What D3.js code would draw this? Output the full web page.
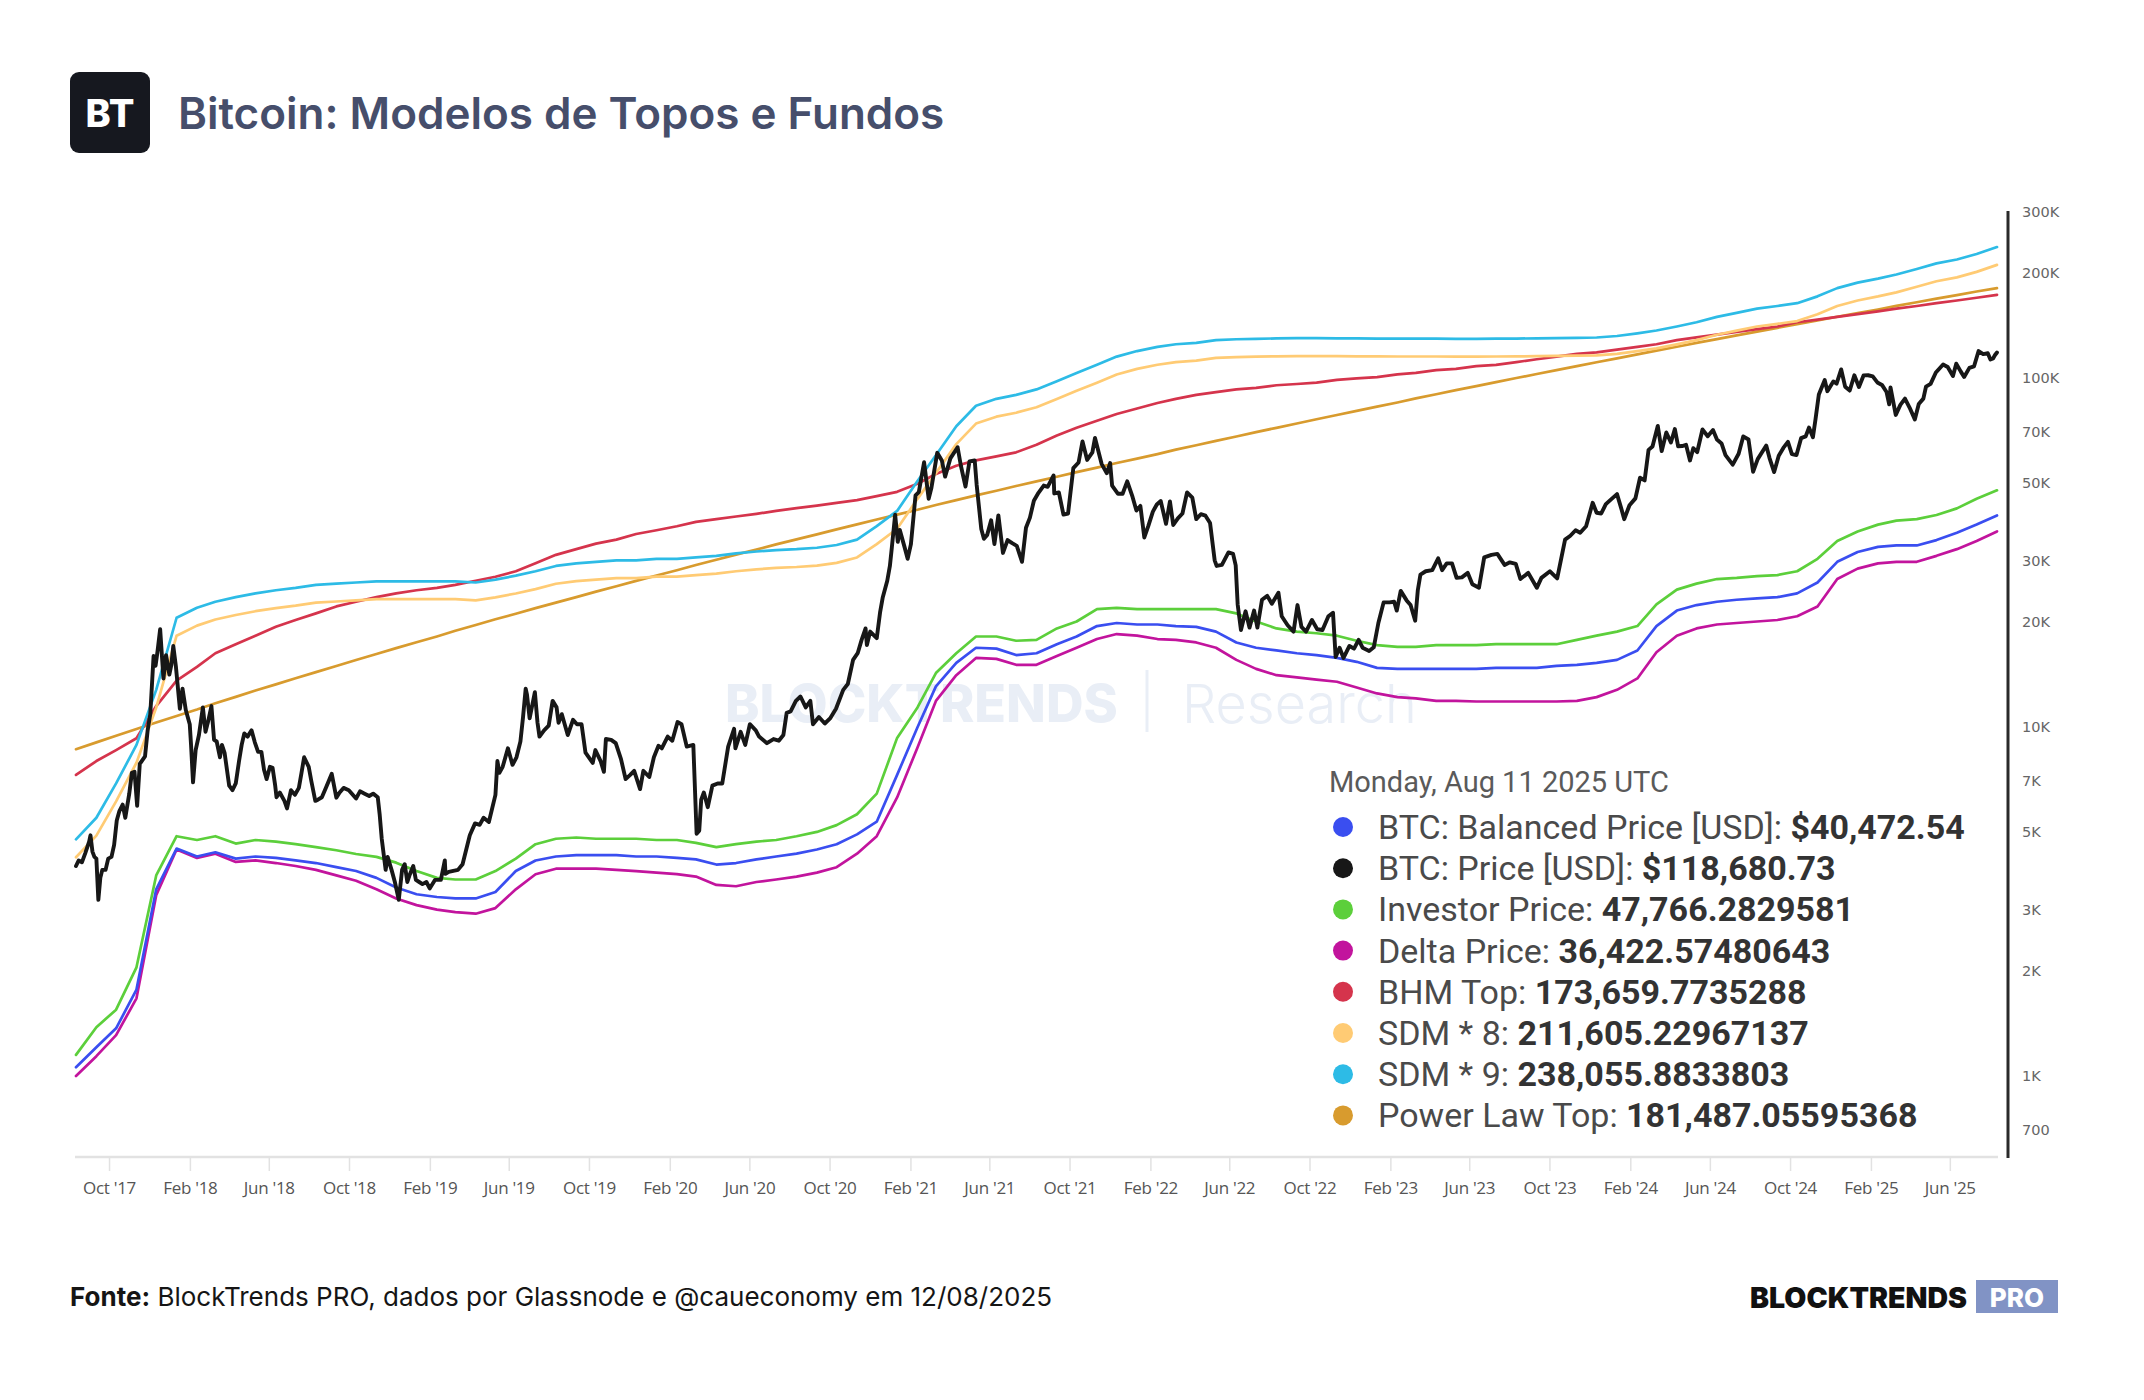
<!DOCTYPE html>
<html>
<head>
<meta charset="utf-8">
<script src="https://cdn.jsdelivr.net/npm/d3@7"></script>
<style>
  html, body { margin: 0; padding: 0; background: #fff; }
  svg { display: block; }
</style>
</head>
<body>
<svg id="chart" width="2144" height="1400"></svg>
<script>
// model series are monthly, starting 2017-08-11, values in thousands of USD
var modelStart = "2017-08-11";

var sdm9K = [4.77,5.5,6.9,8.9,12.8,20.6,22.0,22.9,23.6,24.2,
  24.7,25.1,25.6,25.8,26.0,26.2,26.2,26.2,26.2,26.2,
  26.0,26.5,27.2,28.0,29.0,29.5,29.8,30.1,30.1,30.4,
  30.4,30.7,31.0,31.5,31.9,32.2,32.4,32.7,33.3,34.5,
  37.7,41.7,50.8,60.2,72.9,83.5,87.4,89.7,93.0,98.2,
  103.7,109.4,115.5,119.8,123.1,125.3,126.5,128.8,129.5,129.9,
  130.2,130.4,130.4,130.3,130.2,130.1,130.0,130.0,130.0,129.9,
  129.9,130.0,130.1,130.3,130.5,130.7,131.0,132.3,134.7,137.2,
  140.9,144.9,150.1,154.2,158.5,161.3,164.3,171.9,181.5,188.2,
  193.3,198.6,206.0,213.7,219.2,227.3,238.06];

var sdm8K = [4.24,4.89,6.13,7.91,11.38,18.3,19.56,20.36,20.98,21.51,
  21.96,22.31,22.76,22.93,23.11,23.29,23.29,23.29,23.29,23.29,
  23.11,23.56,24.18,24.89,25.78,26.22,26.49,26.76,26.76,27.02,
  27.02,27.29,27.56,28.0,28.36,28.62,28.8,29.07,29.6,30.67,
  33.51,37.07,45.16,53.51,64.8,74.22,77.69,79.73,82.67,87.29,
  92.18,97.24,102.67,106.49,109.42,111.38,112.44,114.49,115.11,115.47,
  115.73,115.91,115.91,115.82,115.73,115.64,115.56,115.56,115.56,115.47,
  115.47,115.56,115.64,115.82,116.0,116.18,116.44,117.6,119.73,121.96,
  125.24,128.8,133.42,137.07,140.89,143.38,146.04,152.8,161.33,167.29,
  171.82,176.53,183.11,189.96,194.84,202.04,211.61];

var bhmK = [7.3,8.0,8.6,9.3,11.5,13.6,14.9,16.3,17.3,18.3,
  19.4,20.3,21.2,22.2,22.9,23.6,24.2,24.7,25.1,25.6,
  26.3,27.0,28.0,29.5,31.2,32.4,33.6,34.5,35.8,36.7,
  37.7,38.8,39.5,40.2,40.9,41.7,42.5,43.2,44.0,44.8,
  46.0,47.3,49.9,53.2,56.2,58.2,59.8,61.4,64.5,68.6,
  72.2,75.6,79.1,82.0,85.0,87.4,89.7,91.4,93.0,93.9,
  95.6,96.4,97.3,99.1,100.0,100.9,102.7,103.7,105.6,106.5,
  108.5,109.4,111.4,113.5,115.5,117.6,118.7,120.9,123.1,125.3,
  128.8,131.1,133.5,135.9,138.4,140.9,144.9,147.5,150.1,152.8,
  155.6,158.5,161.3,164.3,167.3,170.3,173.66];

var powerLawK = [8.65,9.05,9.45,9.88,10.32,10.77,11.24,11.72,12.22,12.74,
  13.27,13.82,14.39,14.98,15.59,16.21,16.86,17.52,18.21,18.91,
  19.64,20.39,21.16,21.95,22.77,23.61,24.48,25.37,26.28,27.22,
  28.19,29.18,30.2,31.25,32.32,33.43,34.56,35.73,36.92,38.15,
  39.41,40.7,42.02,43.38,44.77,46.19,47.65,49.15,50.68,52.26,
  53.86,55.51,57.2,58.92,60.69,62.5,64.35,66.24,68.18,70.16,
  72.18,74.25,76.37,78.53,80.74,83.0,85.31,87.67,90.08,92.55,
  95.06,97.63,100.25,102.93,105.66,108.45,111.3,114.2,117.16,120.19,
  123.27,126.42,129.63,132.9,136.23,139.64,143.1,146.64,150.24,153.92,
  157.66,161.47,165.36,169.32,173.35,177.46,181.49];

var investorK = [1.15,1.38,1.55,2.05,3.76,4.87,4.75,4.87,4.64,4.75,
  4.70,4.62,4.53,4.44,4.33,4.25,4.09,3.87,3.70,3.66,
  3.66,3.87,4.20,4.62,4.79,4.83,4.79,4.79,4.79,4.75,
  4.75,4.66,4.53,4.62,4.70,4.75,4.87,5.01,5.24,5.63,
  6.45,9.32,11.4,14.3,16.3,18.2,18.2,17.7,17.8,19.2,
  20.1,21.8,22.0,21.8,21.8,21.8,21.8,21.8,21.2,20.1,
  19.2,18.8,18.6,18.3,17.7,17.2,17.0,17.0,17.2,17.2,
  17.2,17.3,17.3,17.3,17.3,17.8,18.3,18.8,19.5,22.5,
  24.8,25.8,26.6,26.8,27.1,27.3,28.0,30.4,34.2,36.4,
  38.1,39.1,39.5,40.6,42.4,45.2,47.77];

var balancedK = [1.06,1.21,1.37,1.77,3.43,4.49,4.26,4.38,4.20,4.26,
  4.22,4.15,4.08,3.97,3.87,3.70,3.47,3.32,3.26,3.23,
  3.23,3.37,3.87,4.15,4.26,4.30,4.30,4.30,4.26,4.26,
  4.22,4.18,4.04,4.08,4.18,4.26,4.34,4.46,4.62,4.93,
  5.36,7.30,10.0,13.1,15.3,16.9,16.8,16.1,16.3,17.3,
  18.2,19.5,19.9,19.7,19.7,19.5,19.4,18.8,17.5,16.9,
  16.6,16.3,16.1,15.8,15.4,14.8,14.7,14.7,14.7,14.7,
  14.7,14.8,14.8,14.8,15.0,15.1,15.3,15.6,16.6,19.5,
  21.6,22.4,22.9,23.2,23.4,23.6,24.2,26.0,29.8,31.8,
  32.9,33.2,33.2,34.4,36.1,38.1,40.47];

var deltaK = [1.0,1.14,1.31,1.67,3.3,4.46,4.22,4.34,4.11,4.15,
  4.08,4.0,3.9,3.76,3.63,3.43,3.23,3.09,3.0,2.95,
  2.92,3.03,3.43,3.79,3.93,3.93,3.93,3.9,3.87,3.83,
  3.79,3.73,3.53,3.5,3.6,3.66,3.73,3.83,3.97,4.34,
  4.87,6.29,8.75,11.9,14.1,15.8,15.7,15.1,15.1,16.0,
  16.9,17.9,18.5,18.3,17.9,17.8,17.5,16.9,15.6,14.7,
  14.1,13.9,13.7,13.5,13.0,12.5,12.2,12.1,11.9,11.9,
  11.85,11.85,11.85,11.85,11.85,11.9,12.2,12.8,13.8,16.4,
  18.3,19.2,19.7,19.9,20.1,20.3,20.8,22.2,26.6,28.5,
  29.5,29.8,29.8,31.0,32.4,34.2,36.42];

// BTC price [date, USD]
var btcPrice = [
  ["2017-08-11",4000],["2017-08-15",4150],["2017-08-20",4100],["2017-08-25",4350],["2017-08-31",4700],
  ["2017-09-02",4900],["2017-09-05",4400],["2017-09-08",4250],["2017-09-11",4200],["2017-09-14",3200],
  ["2017-09-17",3700],["2017-09-20",3900],["2017-09-25",3900],["2017-09-29",4200],["2017-10-04",4250],
  ["2017-10-08",4600],["2017-10-12",5400],["2017-10-16",5750],["2017-10-21",6000],["2017-10-25",5500],
  ["2017-10-31",6450],["2017-11-04",7400],["2017-11-08",7450],["2017-11-12",5950],["2017-11-16",7850],
  ["2017-11-19",8000],["2017-11-24",8250],["2017-11-28",9800],["2017-12-02",10900],["2017-12-07",16000],
  ["2017-12-10",15000],["2017-12-13",16500],["2017-12-17",19100],["2017-12-22",13800],["2017-12-26",16100],
  ["2017-12-31",14150],["2018-01-03",15100],["2018-01-06",17100],["2018-01-10",14900],["2018-01-16",11300],
  ["2018-01-20",12900],["2018-01-25",11200],["2018-01-31",10200],["2018-02-02",8900],["2018-02-05",6950],
  ["2018-02-09",8600],["2018-02-14",9500],["2018-02-20",11400],["2018-02-24",9700],["2018-02-28",10400],
  ["2018-03-05",11500],["2018-03-09",9200],["2018-03-13",9100],["2018-03-18",8200],["2018-03-21",8900],
  ["2018-03-25",8450],["2018-04-01",6800],["2018-04-06",6600],["2018-04-11",6900],["2018-04-16",8000],
  ["2018-04-20",8900],["2018-04-24",9600],["2018-04-29",9400],["2018-05-05",9800],["2018-05-10",9050],
  ["2018-05-15",8500],["2018-05-20",8500],["2018-05-24",7550],["2018-05-28",7100],["2018-06-02",7700],
  ["2018-06-06",7650],["2018-06-10",6800],["2018-06-12",6300],["2018-06-17",6500],["2018-06-24",6150],
  ["2018-06-28",5850],["2018-07-04",6600],["2018-07-10",6400],["2018-07-16",6700],["2018-07-20",7400],
  ["2018-07-24",8200],["2018-07-31",7700],["2018-08-04",7000],["2018-08-10",6150],["2018-08-14",6200],
  ["2018-08-20",6300],["2018-08-26",6700],["2018-09-04",7350],["2018-09-11",6280],["2018-09-16",6500],
  ["2018-09-22",6700],["2018-09-30",6600],["2018-10-11",6250],["2018-10-17",6550],["2018-10-24",6450],
  ["2018-10-31",6350],["2018-11-06",6450],["2018-11-13",6300],["2018-11-16",5600],["2018-11-19",4800],
  ["2018-11-25",3900],["2018-11-28",4250],["2018-12-04",3900],["2018-12-09",3600],["2018-12-15",3200],
  ["2018-12-20",3900],["2018-12-24",4050],["2018-12-28",3600],["2018-12-31",3750],["2019-01-06",4000],
  ["2019-01-10",3650],["2019-01-15",3600],["2019-01-20",3550],["2019-01-26",3600],["2019-01-31",3450],
  ["2019-02-08",3650],["2019-02-17",3650],["2019-02-23",4150],["2019-02-24",3800],["2019-03-01",3850],
  ["2019-03-15",3900],["2019-03-22",4050],["2019-04-02",4900],["2019-04-10",5300],["2019-04-17",5250],
  ["2019-04-23",5500],["2019-05-01",5350],["2019-05-11",6400],["2019-05-14",8000],["2019-05-17",7400],
  ["2019-05-22",7700],["2019-05-30",8700],["2019-06-06",7800],["2019-06-12",8200],["2019-06-18",9100],
  ["2019-06-22",10700],["2019-06-26",12900],["2019-06-28",12400],["2019-07-02",10600],["2019-07-10",12600],
  ["2019-07-14",10300],["2019-07-17",9400],["2019-07-24",9800],["2019-07-31",10100],["2019-08-06",11900],
  ["2019-08-12",11400],["2019-08-15",10300],["2019-08-20",10900],["2019-08-29",9500],["2019-09-06",10500],
  ["2019-09-12",10200],["2019-09-19",10200],["2019-09-25",8450],["2019-10-06",7900],["2019-10-10",8600],
  ["2019-10-18",8000],["2019-10-23",7450],["2019-10-26",9250],["2019-11-03",9200],["2019-11-10",9000],
  ["2019-11-18",8100],["2019-11-25",7100],["2019-12-02",7300],["2019-12-08",7500],["2019-12-17",6650],
  ["2019-12-22",7500],["2019-12-31",7200],["2020-01-07",8200],["2020-01-14",8850],["2020-01-19",8700],
  ["2020-01-28",9400],["2020-02-04",9150],["2020-02-12",10350],["2020-02-18",10200],["2020-02-26",8800],
  ["2020-03-07",8900],["2020-03-12",4950],["2020-03-16",5050],["2020-03-19",6200],["2020-03-23",6500],
  ["2020-03-29",5900],["2020-04-05",6800],["2020-04-13",6900],["2020-04-20",6900],["2020-04-29",8800],
  ["2020-05-08",9900],["2020-05-10",8700],["2020-05-18",9700],["2020-05-25",8900],["2020-06-01",10200],
  ["2020-06-10",9800],["2020-06-15",9400],["2020-06-27",9000],["2020-07-07",9250],["2020-07-15",9150],
  ["2020-07-22",9500],["2020-07-27",11000],["2020-08-02",11100],["2020-08-10",11900],["2020-08-17",12250],
  ["2020-08-25",11400],["2020-09-01",11900],["2020-09-05",10200],["2020-09-14",10700],["2020-09-23",10250],
  ["2020-10-01",10600],["2020-10-10",11300],["2020-10-21",12800],["2020-10-28",13300],["2020-11-05",15600],
  ["2020-11-12",16300],["2020-11-18",17800],["2020-11-24",19200],["2020-11-26",17200],["2020-12-01",18800],
  ["2020-12-11",18000],["2020-12-16",21300],["2020-12-20",23500],["2020-12-27",26300],["2020-12-31",29000],
  ["2021-01-03",32800],["2021-01-08",40700],["2021-01-12",34000],["2021-01-15",36800],["2021-01-22",33000],
  ["2021-01-27",30400],["2021-02-01",33500],["2021-02-08",46200],["2021-02-13",47200],["2021-02-21",57500],
  ["2021-02-28",45200],["2021-03-04",48400],["2021-03-13",61200],["2021-03-20",58200],["2021-03-25",52300],
  ["2021-04-02",59000],["2021-04-13",63500],["2021-04-18",56200],["2021-04-25",49000],["2021-05-01",57800],
  ["2021-05-09",58200],["2021-05-12",49500],["2021-05-19",37000],["2021-05-23",34700],["2021-05-28",35600],
  ["2021-06-03",39200],["2021-06-08",33500],["2021-06-14",40500],["2021-06-21",31600],["2021-06-28",34400],
  ["2021-07-05",33700],["2021-07-12",33100],["2021-07-20",29800],["2021-07-26",37300],["2021-08-01",39900],
  ["2021-08-07",44600],["2021-08-14",47000],["2021-08-22",49300],["2021-08-28",48900],["2021-09-06",52700],
  ["2021-09-07",46800],["2021-09-14",47100],["2021-09-21",40700],["2021-09-28",41000],["2021-10-06",55300],
  ["2021-10-14",57400],["2021-10-20",66000],["2021-10-27",58400],["2021-11-04",61400],["2021-11-08",67500],
  ["2021-11-18",56900],["2021-11-26",53500],["2021-12-01",57200],["2021-12-04",49300],["2021-12-13",46700],
  ["2021-12-20",46700],["2021-12-27",50700],["2022-01-04",45800],["2022-01-10",41800],["2022-01-16",43100],
  ["2022-01-22",35000],["2022-01-28",37700],["2022-02-04",41500],["2022-02-10",43500],["2022-02-16",44500],
  ["2022-02-24",38300],["2022-03-02",44400],["2022-03-07",38000],["2022-03-14",39700],["2022-03-21",41000],
  ["2022-03-28",47100],["2022-04-05",45500],["2022-04-11",39500],["2022-04-18",40800],["2022-04-25",40400],
  ["2022-05-02",38500],["2022-05-09",30100],["2022-05-12",29000],["2022-05-20",29200],["2022-05-30",31700],
  ["2022-06-06",31400],["2022-06-10",29100],["2022-06-13",22500],["2022-06-18",19000],["2022-06-25",21500],
  ["2022-07-01",19300],["2022-07-08",21600],["2022-07-13",19300],["2022-07-20",23200],["2022-07-28",23800],
  ["2022-08-04",22600],["2022-08-14",24300],["2022-08-19",20800],["2022-08-28",19600],["2022-09-06",18800],
  ["2022-09-12",22400],["2022-09-18",19400],["2022-09-25",18800],["2022-10-04",20300],["2022-10-12",19100],
  ["2022-10-20",19000],["2022-10-29",20800],["2022-11-05",21300],["2022-11-09",15900],["2022-11-15",16900],
  ["2022-11-21",15800],["2022-11-30",17100],["2022-12-07",16800],["2022-12-14",17800],["2022-12-20",16900],
  ["2022-12-30",16550],["2023-01-06",16950],["2023-01-13",19900],["2023-01-21",22800],["2023-01-30",22800],
  ["2023-02-06",22900],["2023-02-10",21600],["2023-02-16",24600],["2023-02-25",23100],["2023-03-03",22400],
  ["2023-03-10",20200],["2023-03-14",24700],["2023-03-18",27400],["2023-03-26",28000],["2023-04-05",28200],
  ["2023-04-14",30500],["2023-04-20",28200],["2023-04-27",29500],["2023-05-05",29500],["2023-05-12",26800],
  ["2023-05-20",26900],["2023-05-29",27700],["2023-06-05",25700],["2023-06-15",25100],["2023-06-23",30700],
  ["2023-07-04",31200],["2023-07-13",31400],["2023-07-24",29200],["2023-08-01",29700],["2023-08-10",29400],
  ["2023-08-17",26600],["2023-08-29",27700],["2023-09-11",25100],["2023-09-18",26800],["2023-10-01",28000],
  ["2023-10-12",26700],["2023-10-24",34500],["2023-11-01",35400],["2023-11-09",36700],["2023-11-16",36100],
  ["2023-11-25",37700],["2023-12-05",44000],["2023-12-11",41200],["2023-12-18",41000],["2023-12-25",43600],
  ["2024-01-02",45000],["2024-01-11",46600],["2024-01-17",42700],["2024-01-22",39500],["2024-01-30",43300],
  ["2024-02-08",45300],["2024-02-15",51900],["2024-02-22",51000],["2024-02-28",62400],["2024-03-05",63800],
  ["2024-03-13",73100],["2024-03-19",61900],["2024-03-26",70000],["2024-04-02",65500],["2024-04-08",71600],
  ["2024-04-13",63900],["2024-04-19",64000],["2024-04-25",64500],["2024-05-01",58200],["2024-05-06",63100],
  ["2024-05-12",61500],["2024-05-20",71400],["2024-05-28",68300],["2024-06-05",71100],["2024-06-11",66800],
  ["2024-06-18",65100],["2024-06-24",60300],["2024-07-05",56600],["2024-07-14",60800],["2024-07-21",68200],
  ["2024-07-29",66800],["2024-08-05",54000],["2024-08-12",58700],["2024-08-25",64200],["2024-08-30",59100],
  ["2024-09-06",53900],["2024-09-13",60000],["2024-09-20",63200],["2024-09-27",65800],["2024-10-03",60700],
  ["2024-10-10",60300],["2024-10-17",67400],["2024-10-24",68200],["2024-10-29",72300],["2024-11-04",67800],
  ["2024-11-08",76500],["2024-11-13",90000],["2024-11-22",98900],["2024-11-26",91900],["2024-12-05",98000],
  ["2024-12-10",96600],["2024-12-17",106100],["2024-12-23",94700],["2024-12-30",92300],["2025-01-06",102100],
  ["2025-01-13",94500],["2025-01-20",102000],["2025-01-27",102100],["2025-02-03",101400],["2025-02-10",97400],
  ["2025-02-17",95800],["2025-02-24",91400],["2025-02-28",84300],["2025-03-02",94200],["2025-03-10",78600],
  ["2025-03-17",84000],["2025-03-24",87500],["2025-03-31",82500],["2025-04-08",76300],["2025-04-14",84500],
  ["2025-04-21",87500],["2025-04-25",94700],["2025-05-02",96500],["2025-05-10",104000],["2025-05-21",109600],
  ["2025-05-28",107800],["2025-06-05",101600],["2025-06-10",110200],["2025-06-17",104600],["2025-06-22",101000],
  ["2025-06-30",107200],["2025-07-07",108200],["2025-07-14",119800],["2025-07-21",117400],["2025-07-28",118100],
  ["2025-08-01",113300],["2025-08-05",114100],["2025-08-08",116700],["2025-08-11",118700]
];

var yTicks = [700, 1000, 2000, 3000, 5000, 7000, 10000, 20000, 30000, 50000, 70000, 100000, 200000, 300000];
var yTickLabels = ["700", "1K", "2K", "3K", "5K", "7K", "10K", "20K", "30K", "50K", "70K", "100K", "200K", "300K"];

var legendNames = ["BTC: Balanced Price [USD]: ", "BTC: Price [USD]: ", "Investor Price: ", "Delta Price: ",
  "BHM Top: ", "SDM * 8: ", "SDM * 9: ", "Power Law Top: "];
var legendValues = ["$40,472.54", "$118,680.73", "47,766.2829581", "36,422.57480643",
  "173,659.7735288", "211,605.22967137", "238,055.8833803", "181,487.05595368"];
var legendColors = ["#3a4ef0", "#171717", "#5ccf3b", "#c2149d", "#d5344c", "#ffcb74", "#2dbbe6", "#d89b2e"];

var svg = d3.select("#chart");
var parse = d3.utcParse("%Y-%m-%d");

// scales
var x = d3.scaleUtc()
  .domain([parse("2017-08-11"), parse("2025-08-11")])
  .range([76, 1997]);
var y = d3.scaleLog()
  .domain([586, 300000])
  .range([1157, 212]);

// header
svg.append("rect").attr("x", 70).attr("y", 72).attr("width", 80).attr("height", 81)
  .attr("rx", 9).attr("fill", "#16181f");
svg.append("text").attr("x", 110).attr("y", 113).attr("text-anchor", "middle")
  .attr("dominant-baseline", "central")
  .style("font-family", "Inter").style("font-weight", 800).style("font-size", "38px")
  .attr("fill", "#fff").text("BT");
svg.append("text").attr("x", 178).attr("y", 113).attr("dominant-baseline", "central")
  .style("font-family", "Inter").style("font-weight", 600).style("font-size", "44px")
  .attr("fill", "#464e6b").text("Bitcoin: Modelos de Topos e Fundos");

// watermark
var wm = svg.append("g").attr("fill", "#e9eef6");
wm.append("text").attr("x", 725).attr("y", 703).attr("dominant-baseline", "central")
  .style("font-family", "Inter").style("font-weight", 800).style("font-size", "52px")
  .text("BLOCKTRENDS");
wm.append("line").attr("x1", 1147).attr("x2", 1147).attr("y1", 670).attr("y2", 732)
  .attr("stroke", "#e9eef6").attr("stroke-width", 3);
wm.append("text").attr("x", 1182).attr("y", 703).attr("dominant-baseline", "central")
  .style("font-family", "Inter").style("font-weight", 300).style("font-size", "54px")
  .text("Research");

// x axis
var xTicks = d3.utcMonth.range(parse("2017-09-01"), parse("2025-08-01"))
  .filter(function (d) { return d.getUTCMonth() % 4 === 1; });
var fmt = d3.utcFormat("%b '%y");

svg.append("line").attr("x1", 75).attr("x2", 1998).attr("y1", 1157).attr("y2", 1157)
  .attr("stroke", "#e2e2e2").attr("stroke-width", 2.5);
var xg = svg.append("g");
xg.selectAll("line").data(xTicks).enter().append("line")
  .attr("x1", function (d) { return x(d); }).attr("x2", function (d) { return x(d); })
  .attr("y1", 1158).attr("y2", 1171)
  .attr("stroke", "#e2e2e2").attr("stroke-width", 1.5);
xg.selectAll("text").data(xTicks).enter().append("text")
  .attr("x", function (d) { return x(d); }).attr("y", 1187)
  .attr("text-anchor", "middle").attr("dominant-baseline", "central")
  .style("font-family", "Open Sans").style("font-size", "17px").style("letter-spacing", "-0.3px")
  .attr("fill", "#555").text(function (d) { return fmt(d); });

// y axis
svg.append("line").attr("x1", 2008).attr("x2", 2008).attr("y1", 211).attr("y2", 1158)
  .attr("stroke", "#2a2a2a").attr("stroke-width", 3);
svg.append("g").selectAll("text").data(yTicks).enter().append("text")
  .attr("x", 2022).attr("y", function (d) { return y(d); })
  .attr("dominant-baseline", "central")
  .style("font-family", "DejaVu Sans").style("font-size", "14.5px")
  .attr("fill", "#666").text(function (d, i) { return yTickLabels[i]; });

// series
var monthDates = d3.range(sdm9K.length).map(function (i) {
  return d3.utcMonth.offset(parse(modelStart), i);
});
function monthly(arr) {
  return arr.map(function (v, i) { return { date: monthDates[i], value: v * 1000 }; });
}
var priceData = btcPrice.map(function (p) { return { date: parse(p[0]), value: p[1] }; });

var line = d3.line()
  .x(function (d) { return x(d.date); })
  .y(function (d) { return y(d.value); });

var series = [
  { data: monthly(powerLawK), color: legendColors[7], w: 2.7 },
  { data: monthly(bhmK), color: legendColors[4], w: 2.7 },
  { data: monthly(sdm8K), color: legendColors[5], w: 2.7 },
  { data: monthly(sdm9K), color: legendColors[6], w: 2.7 },
  { data: monthly(investorK), color: legendColors[2], w: 2.7 },
  { data: monthly(deltaK), color: legendColors[3], w: 2.7 },
  { data: monthly(balancedK), color: legendColors[0], w: 2.7 },
  { data: priceData, color: legendColors[1], w: 3.9 }
];

svg.append("g").selectAll("path").data(series).enter().append("path")
  .attr("d", function (s) { return line(s.data); })
  .attr("fill", "none")
  .attr("stroke", function (s) { return s.color; })
  .attr("stroke-width", function (s) { return s.w; })
  .attr("stroke-linejoin", "round")
  .attr("stroke-linecap", "round");

// legend
var lg = svg.append("g");
lg.append("rect").attr("x", 1318).attr("y", 752).attr("width", 684).attr("height", 392).attr("fill", "#fff");
lg.append("text").attr("x", 1329).attr("y", 782).attr("dominant-baseline", "central")
  .style("font-family", "Roboto").style("font-size", "29px").attr("fill", "#5a5a5a")
  .text("Monday, Aug 11 2025 UTC");
legendNames.forEach(function (name, i) {
  var cy = 827 + i * 41.2;
  lg.append("circle").attr("cx", 1343).attr("cy", cy).attr("r", 10).attr("fill", legendColors[i]);
  var t = lg.append("text").attr("x", 1378).attr("y", cy).attr("dominant-baseline", "central")
    .style("font-family", "Roboto").style("font-size", "34px");
  t.append("tspan").attr("fill", "#4a4a4a").text(name);
  t.append("tspan").attr("fill", "#333").style("font-weight", 700).text(legendValues[i]);
});

// footer
var ft = svg.append("text").attr("x", 70).attr("y", 1296).attr("dominant-baseline", "central")
  .style("font-family", "Inter").style("font-size", "26px").attr("fill", "#151515");
ft.append("tspan").style("font-weight", 700).text("Fonte:");
ft.append("tspan").text(" BlockTrends PRO, dados por Glassnode e @caueconomy em 12/08/2025");

svg.append("text").attr("x", 1750).attr("y", 1297).attr("dominant-baseline", "central")
  .style("font-family", "Inter").style("font-weight", 900).style("font-size", "28.5px")
  .attr("fill", "#111").text("BLOCKTRENDS");
svg.append("rect").attr("x", 1976).attr("y", 1280).attr("width", 82).attr("height", 33).attr("fill", "#8193c5");
svg.append("text").attr("x", 2017).attr("y", 1297).attr("text-anchor", "middle").attr("dominant-baseline", "central")
  .style("font-family", "Inter").style("font-weight", 800).style("font-size", "26px")
  .attr("fill", "#fff").text("PRO");
</script>
</body>
</html>
